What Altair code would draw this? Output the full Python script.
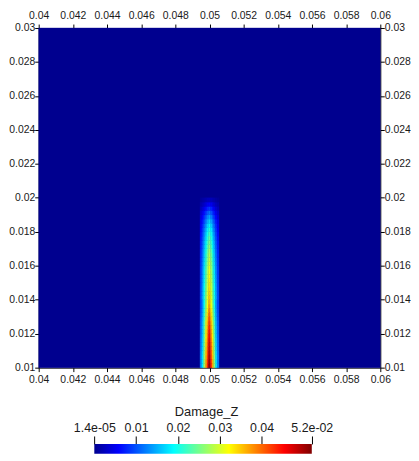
import altair as alt
import pandas as pd

# ---- data ----
x_ticks = [0.04, 0.042, 0.044, 0.046, 0.048, 0.05, 0.052, 0.054, 0.056, 0.058, 0.06]
y_ticks = [0.01, 0.012, 0.014, 0.016, 0.018, 0.02, 0.022, 0.024, 0.026, 0.028, 0.03]
x_domain = [0.04, 0.06]
y_domain = [0.01, 0.03]

damage_min = 1.4e-05
damage_max = 0.052
colorbar_ticks = [1.4e-05, 0.01, 0.02, 0.03, 0.04, 0.052]

# cell edges of the damaged strip around x = 0.05
x_edges = [0.04945, 0.04955, 0.04965, 0.04975, 0.04985, 0.04995,
           0.05005, 0.05015, 0.05025, 0.05035, 0.05045, 0.05055]
y_edges = [0.01000, 0.01025, 0.01050, 0.01075, 0.01100, 0.01125, 0.01150, 0.01175,
           0.01200, 0.01225, 0.01250, 0.01275, 0.01300, 0.01325, 0.01350, 0.01375,
           0.01400, 0.01425, 0.01450, 0.01475, 0.01500, 0.01525, 0.01550, 0.01575,
           0.01600, 0.01625, 0.01650, 0.01675, 0.01700, 0.01725, 0.01750, 0.01775,
           0.01800, 0.01825, 0.01850, 0.01875, 0.01900, 0.01925, 0.01950, 0.01975,
           0.02000]

# damage values per row (bottom row first), 11 columns across the strip
damage_rows = [
    [0.0129, 0.0181, 0.0268, 0.0361, 0.0439, 0.0516, 0.0439, 0.0361, 0.0268, 0.0181, 0.0129],
    [0.0127, 0.0178, 0.0264, 0.0356, 0.0432, 0.0508, 0.0432, 0.0356, 0.0264, 0.0178, 0.0127],
    [0.0125, 0.0175, 0.0260, 0.0350, 0.0425, 0.0500, 0.0425, 0.0350, 0.0260, 0.0175, 0.0125],
    [0.0123, 0.0172, 0.0256, 0.0344, 0.0418, 0.0492, 0.0418, 0.0344, 0.0256, 0.0172, 0.0123],
    [0.0121, 0.0169, 0.0252, 0.0339, 0.0411, 0.0484, 0.0411, 0.0339, 0.0252, 0.0169, 0.0121],
    [0.0119, 0.0167, 0.0248, 0.0333, 0.0405, 0.0476, 0.0405, 0.0333, 0.0248, 0.0167, 0.0119],
    [0.0117, 0.0163, 0.0243, 0.0327, 0.0397, 0.0467, 0.0397, 0.0327, 0.0243, 0.0163, 0.0117],
    [0.0115, 0.0160, 0.0238, 0.0321, 0.0389, 0.0458, 0.0389, 0.0321, 0.0238, 0.0160, 0.0115],
    [0.0112, 0.0157, 0.0233, 0.0314, 0.0381, 0.0448, 0.0381, 0.0314, 0.0233, 0.0157, 0.0112],
    [0.0110, 0.0154, 0.0228, 0.0307, 0.0373, 0.0439, 0.0373, 0.0307, 0.0228, 0.0154, 0.0110],
    [0.0107, 0.0150, 0.0223, 0.0300, 0.0365, 0.0429, 0.0365, 0.0300, 0.0223, 0.0150, 0.0107],
    [0.0104, 0.0146, 0.0217, 0.0292, 0.0354, 0.0417, 0.0354, 0.0292, 0.0217, 0.0146, 0.0104],
    [0.0101, 0.0141, 0.0210, 0.0283, 0.0343, 0.0404, 0.0343, 0.0283, 0.0210, 0.0141, 0.0101],
    [0.0098, 0.0137, 0.0203, 0.0274, 0.0332, 0.0391, 0.0332, 0.0274, 0.0203, 0.0137, 0.0098],
    [0.0095, 0.0132, 0.0197, 0.0265, 0.0321, 0.0378, 0.0321, 0.0265, 0.0197, 0.0132, 0.0095],
    [0.0093, 0.0132, 0.0192, 0.0260, 0.0314, 0.0364, 0.0314, 0.0260, 0.0192, 0.0132, 0.0093],
    [0.0099, 0.0142, 0.0199, 0.0259, 0.0309, 0.0355, 0.0309, 0.0259, 0.0199, 0.0142, 0.0099],
    [0.0098, 0.0140, 0.0195, 0.0255, 0.0304, 0.0349, 0.0304, 0.0255, 0.0195, 0.0140, 0.0098],
    [0.0096, 0.0137, 0.0192, 0.0250, 0.0298, 0.0343, 0.0298, 0.0250, 0.0192, 0.0137, 0.0096],
    [0.0094, 0.0135, 0.0189, 0.0246, 0.0293, 0.0337, 0.0293, 0.0246, 0.0189, 0.0135, 0.0094],
    [0.0093, 0.0132, 0.0185, 0.0242, 0.0288, 0.0331, 0.0288, 0.0242, 0.0185, 0.0132, 0.0093],
    [0.0091, 0.0130, 0.0182, 0.0237, 0.0283, 0.0325, 0.0283, 0.0237, 0.0182, 0.0130, 0.0091],
    [0.0089, 0.0127, 0.0178, 0.0232, 0.0277, 0.0318, 0.0277, 0.0232, 0.0178, 0.0127, 0.0089],
    [0.0087, 0.0124, 0.0174, 0.0227, 0.0271, 0.0311, 0.0271, 0.0227, 0.0174, 0.0124, 0.0087],
    [0.0085, 0.0121, 0.0170, 0.0221, 0.0264, 0.0303, 0.0264, 0.0221, 0.0170, 0.0121, 0.0085],
    [0.0083, 0.0118, 0.0165, 0.0215, 0.0257, 0.0295, 0.0257, 0.0215, 0.0165, 0.0118, 0.0083],
    [0.0080, 0.0114, 0.0160, 0.0209, 0.0249, 0.0286, 0.0249, 0.0209, 0.0160, 0.0114, 0.0080],
    [0.0077, 0.0110, 0.0155, 0.0201, 0.0240, 0.0276, 0.0240, 0.0201, 0.0155, 0.0110, 0.0077],
    [0.0074, 0.0106, 0.0148, 0.0193, 0.0231, 0.0265, 0.0231, 0.0193, 0.0148, 0.0106, 0.0074],
    [0.0071, 0.0101, 0.0142, 0.0185, 0.0220, 0.0253, 0.0220, 0.0185, 0.0142, 0.0101, 0.0071],
    [0.0067, 0.0096, 0.0134, 0.0175, 0.0209, 0.0240, 0.0209, 0.0175, 0.0134, 0.0096, 0.0067],
    [0.0063, 0.0090, 0.0127, 0.0165, 0.0197, 0.0226, 0.0197, 0.0165, 0.0127, 0.0090, 0.0063],
    [0.0059, 0.0084, 0.0118, 0.0153, 0.0183, 0.0210, 0.0183, 0.0153, 0.0118, 0.0084, 0.0059],
    [0.0054, 0.0077, 0.0108, 0.0140, 0.0167, 0.0192, 0.0167, 0.0140, 0.0108, 0.0077, 0.0054],
    [0.0048, 0.0068, 0.0095, 0.0124, 0.0148, 0.0170, 0.0148, 0.0124, 0.0095, 0.0068, 0.0048],
    [0.0041, 0.0058, 0.0081, 0.0106, 0.0126, 0.0145, 0.0126, 0.0106, 0.0081, 0.0058, 0.0041],
    [0.0033, 0.0047, 0.0066, 0.0086, 0.0103, 0.0118, 0.0103, 0.0086, 0.0066, 0.0047, 0.0033],
    [0.0025, 0.0035, 0.0049, 0.0064, 0.0077, 0.0088, 0.0077, 0.0064, 0.0049, 0.0035, 0.0025],
    [0.0016, 0.0022, 0.0031, 0.0041, 0.0049, 0.0056, 0.0049, 0.0041, 0.0031, 0.0022, 0.0016],
    [0.0007, 0.0010, 0.0014, 0.0018, 0.0022, 0.0025, 0.0022, 0.0018, 0.0014, 0.0010, 0.0007],
]

# ---- build table ----
records = [dict(x0=x_domain[0], x1=x_domain[1], y0=y_domain[0], y1=y_domain[1], v=damage_min)]
for r, row in enumerate(damage_rows):
    for c, val in enumerate(row):
        records.append(dict(x0=x_edges[c], x1=x_edges[c + 1],
                            y0=y_edges[r], y1=y_edges[r + 1], v=val))
df = pd.DataFrame(records)
bg_df = pd.DataFrame([records[0]])

# ParaView "Jet" colour map
jet_pos = [0.0, 0.111111, 0.365079, 0.492063, 0.619048, 0.873016, 1.0]
jet_colors = ["#00008F", "#0000FF", "#00FFFF", "#80FF80", "#FFFF00", "#FF0000", "#800000"]
c_domain = [damage_min + p * (damage_max - damage_min) for p in jet_pos]
cscale = alt.Scale(domain=c_domain, range=jet_colors, interpolate="rgb")

FONT = "Liberation Sans"
W, H = 345, 343

xs = alt.Scale(domain=x_domain, nice=False, zero=False)
ys = alt.Scale(domain=y_domain, nice=False, zero=False)

ax_common = dict(grid=False, labelFlush=False, labelOverlap=False, format=".3~f",
                 labelFont=FONT, labelFontSize=10.5, labelColor="#1a1a1a",
                 tickColor="#000000", tickSize=4, domainColor="#000000", title=None)

heat = alt.Chart(df).mark_rect(strokeWidth=0.4).encode(
    x=alt.X("x0:Q", scale=xs, axis=alt.Axis(orient="bottom", values=x_ticks, labelPadding=3, **ax_common)),
    x2="x1:Q",
    y=alt.Y("y0:Q", scale=ys, axis=alt.Axis(orient="left", values=y_ticks, labelPadding=0, **ax_common)),
    y2="y1:Q",
    color=alt.Color("v:Q", scale=cscale, legend=None),
    stroke=alt.Stroke("v:Q", scale=cscale, legend=None),
)

frame = alt.Chart(bg_df).mark_rect(opacity=0).encode(
    x=alt.X("x0:Q", scale=xs, axis=alt.Axis(orient="top", values=x_ticks, labelPadding=4, **ax_common)),
    x2="x1:Q",
    y=alt.Y("y0:Q", scale=ys, axis=alt.Axis(orient="right", values=y_ticks, labelPadding=0, **ax_common)),
    y2="y1:Q",
)

main = alt.layer(heat, frame).resolve_axis(x="independent", y="independent").properties(width=W, height=H)

# ---- colour bar ----
cb_df = pd.DataFrame({"lo": [damage_min], "hi": [damage_max]})
grad = alt.Gradient(
    gradient="linear",
    stops=[alt.GradientStop(color=c, offset=p) for c, p in zip(jet_colors, jet_pos)],
    x1=0, x2=1, y1=0, y2=0,
)
cb_dom = [-0.013280, 0.068380]
colorbar = alt.Chart(cb_df).mark_rect(fill=grad).encode(
    x=alt.X("lo:Q", scale=alt.Scale(domain=cb_dom, nice=False, zero=False),
            axis=alt.Axis(orient="top", values=colorbar_ticks, grid=False, domain=False,
                          labelFlush=False, labelOverlap=False,
                          labelExpr="datum.value < 0.001 ? '1.4e-05' : (datum.value > 0.05 ? '5.2e-02' : format(datum.value, '.2f'))",
                          labelFont=FONT, labelFontSize=12.5, labelColor="#1a1a1a", labelPadding=2,
                          tickColor="#000000", tickSize=8,
                          title="Damage_Z", titleFont=FONT, titleFontSize=13,
                          titleFontWeight="normal", titleColor="#1a1a1a", titlePadding=3,
                          titleX=169, titleAlign="center")),
    x2="hi:Q",
    y=alt.value(0),
    y2=alt.value(10),
).properties(width=W, height=10)

chart = alt.vconcat(main, colorbar, spacing=20).properties(
    padding={"left": 0, "top": 0, "right": 0, "bottom": 0}
).configure_view(strokeWidth=0)

chart.save("out.html", embed_options={"renderer": "svg", "actions": False})
